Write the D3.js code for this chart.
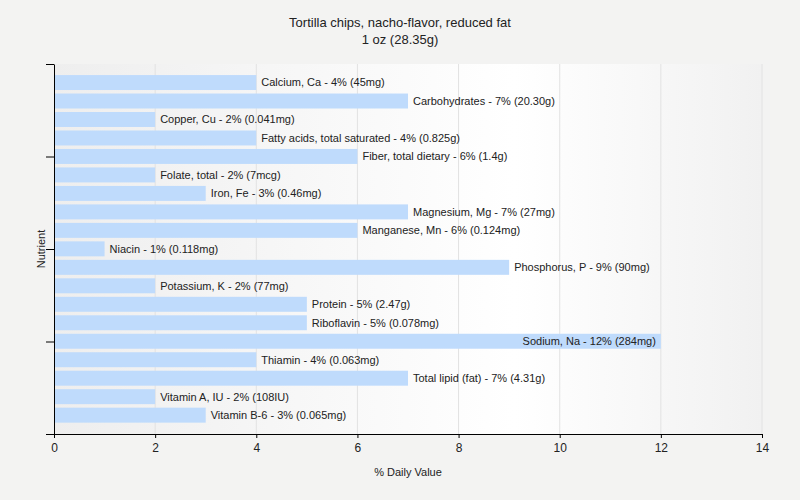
<!DOCTYPE html>
<html><head><meta charset="utf-8">
<script src="https://cdn.jsdelivr.net/npm/d3@7"></script>
<style>body{margin:0;background:#f3f3f2;} svg{display:block;font-family:"Liberation Sans",Arial,sans-serif;}</style>
</head><body><svg id="c" width="800" height="500"></svg>
<script>
const nutrients = ["Calcium, Ca","Carbohydrates","Copper, Cu","Fatty acids, total saturated","Fiber, total dietary","Folate, total","Iron, Fe","Magnesium, Mg","Manganese, Mn","Niacin","Phosphorus, P","Potassium, K","Protein","Riboflavin","Sodium, Na","Thiamin","Total lipid (fat)","Vitamin A, IU","Vitamin B-6"];
const values = [4,7,2,4,6,2,3,7,6,1,9,2,5,5,12,4,7,2,3];
const amounts = ["45mg","20.30g","0.041mg","0.825g","1.4g","7mcg","0.46mg","27mg","0.124mg","0.118mg","90mg","77mg","2.47g","0.078mg","284mg","0.063mg","4.31g","108IU","0.065mg"];
const xTicks = [0,2,4,6,8,10,12,14];
const titleLines = ["Tortilla chips, nacho-flavor, reduced fat","1 oz (28.35g)"];

const svg = d3.select("#c");
const L=54, R=762, T=64, B=434;
const x = d3.scaleLinear().domain([0,14]).range([L,R]);
const y = d3.scaleBand().domain(nutrients).range([73.3,424.4]).paddingInner(0.19).paddingOuter(0.095);

const defs = svg.append("defs");
const g = defs.append("linearGradient").attr("id","bg").attr("x1","0").attr("x2","1").attr("y1","0").attr("y2","0");
g.append("stop").attr("offset","0").attr("stop-color","#eeeeee");
g.append("stop").attr("offset","0.65").attr("stop-color","#ffffff");
g.append("stop").attr("offset","1").attr("stop-color","#f1f1f1");
svg.append("rect").attr("x",L).attr("y",T).attr("width",R-L).attr("height",B-T).attr("fill","url(#bg)");

svg.append("g").selectAll("line").data(xTicks.filter(d=>d>0)).join("line")
  .attr("x1",d=>x(d)).attr("x2",d=>x(d)).attr("y1",T).attr("y2",B)
  .attr("stroke","#e2e2e2").attr("stroke-width",1);

svg.append("g").selectAll("rect").data(nutrients).join("rect")
  .attr("x",x(0)).attr("y",d=>y(d)).attr("width",(d,i)=>x(values[i])-x(0)).attr("height",y.bandwidth())
  .attr("fill","#bfdbfc");

svg.append("g").selectAll("text").data(nutrients).join("text")
  .attr("x",(d,i)=> values[i]>=12 ? x(values[i])-5 : x(values[i])+5)
  .attr("y",d=>y(d)+y.bandwidth()/2)
  .attr("dy","0.35em")
  .attr("text-anchor",(d,i)=> values[i]>=12 ? "end":"start")
  .attr("font-size","11px").attr("fill","#222")
  .text((d,i)=>`${d} - ${values[i]}% (${amounts[i]})`);

const xa = svg.append("g").attr("transform",`translate(0,${B})`)
  .call(d3.axisBottom(x).tickValues(xTicks).tickSize(4).tickSizeOuter(0).tickFormat(d3.format("d")));
xa.select(".domain").attr("stroke","#000");
xa.selectAll(".tick line").attr("stroke","#000");
xa.selectAll("text").attr("font-size","12px").attr("fill","#222").attr("dy","0.9em").attr("font-family","Liberation Sans, Arial, sans-serif");

const yl = d3.scaleLinear().domain([0,4]).range([T,B]);
const ya = svg.append("g").attr("transform",`translate(${L},0)`)
  .call(d3.axisLeft(yl).tickValues([0,1,2,3,4]).tickSize(8).tickSizeOuter(0).tickFormat(""));
ya.select(".domain").attr("stroke","#000");
ya.selectAll(".tick line").attr("stroke","#000");

svg.append("text").attr("x",408).attr("y",476).attr("text-anchor","middle").attr("font-size","11px").attr("fill","#222").text("% Daily Value");
svg.append("text").attr("transform","translate(45,249) rotate(-90)").attr("text-anchor","middle").attr("font-size","11px").attr("fill","#222").text("Nutrient");

svg.append("g").selectAll("text").data(titleLines).join("text")
  .attr("x",400).attr("y",(d,i)=>27+i*17).attr("text-anchor","middle").attr("font-size","13px").attr("fill","#222").text(d=>d);
</script></body></html>
